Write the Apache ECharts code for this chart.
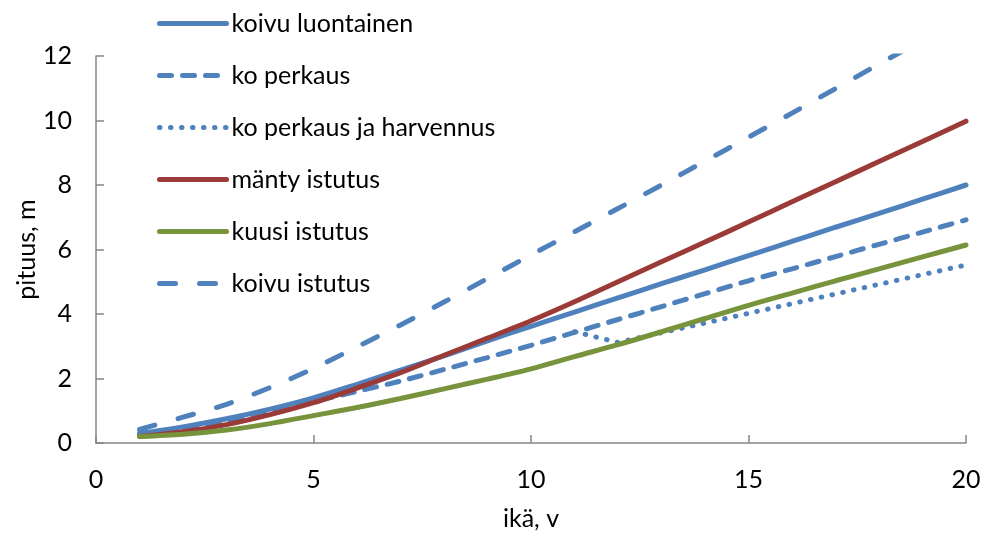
<!DOCTYPE html>
<html>
<head>
<meta charset="utf-8">
<script src="https://cdn.jsdelivr.net/npm/echarts@6/dist/echarts.min.js"></script>
<style>
  html, body { margin: 0; padding: 0; background: #fff; }
  #chart { width: 985px; height: 536px; }
</style>
</head>
<body>
<div id="chart"></div>
<script>
// ikä, v
const ages = [1, 2, 3, 4, 5, 6, 7, 8, 9, 10, 11, 12, 13, 14, 15, 16, 17, 18, 19, 20];
const agesHarvennus = [11, 12, 13, 14, 15, 16, 17, 18, 19, 20];

// pituus, m
const koivuLuontainen = [0.3, 0.5, 0.75, 1.05, 1.4, 1.82, 2.26, 2.7, 3.17, 3.62, 4.06, 4.5, 4.94, 5.37, 5.81, 6.25, 6.69, 7.12, 7.56, 8.0];
const koPerkaus = [0.25, 0.42, 0.65, 0.95, 1.28, 1.6, 1.92, 2.28, 2.65, 3.03, 3.43, 3.83, 4.23, 4.63, 5.03, 5.4, 5.78, 6.16, 6.54, 6.92];
const koPerkausHarvennus = [3.45, 3.12, 3.42, 3.72, 4.02, 4.32, 4.62, 4.92, 5.22, 5.52];
const mantyIstutus = [0.2, 0.35, 0.57, 0.88, 1.25, 1.7, 2.18, 2.72, 3.25, 3.79, 4.38, 5.0, 5.62, 6.23, 6.85, 7.48, 8.1, 8.73, 9.35, 9.98];
const kuusiIstutus = [0.2, 0.27, 0.4, 0.6, 0.85, 1.1, 1.38, 1.68, 1.98, 2.3, 2.68, 3.05, 3.45, 3.86, 4.27, 4.65, 5.03, 5.4, 5.77, 6.14];
const koivuIstutus = [0.42, 0.8, 1.2, 1.72, 2.31, 2.98, 3.66, 4.37, 5.1, 5.83, 6.55, 7.27, 8.0, 8.74, 9.48, 10.23, 10.99, 11.75, 12.5, 13.25];

const xTicks = [0, 5, 10, 15, 20];
const yTicks = [0, 2, 4, 6, 8, 10, 12];

const BLUE = "#4F81BD";
const RED = "#9B3B38";
const GREEN = "#77933C";
const FONT = "Lato";
const FS = 25;

function pairs(xs, ys) {
  return xs.map((x, i) => [x, ys[i]]);
}

function line(name, xs, ys, color, type, smooth) {
  return {
    name: name,
    type: "line",
    data: pairs(xs, ys),
    symbol: "none",
    smooth: smooth,
    clip: true,
    lineStyle: { color: color, width: 5, type: type, cap: "round" },
    itemStyle: { color: color }
  };
}

const chart = echarts.init(document.getElementById("chart"));

chart.setOption({
  backgroundColor: "#fff",
  animation: false,
  textStyle: { fontFamily: FONT },
  grid: { left: 96, right: 19, top: 56, bottom: 91 },
  legend: {
    orient: "vertical",
    left: 152,
    top: 6,
    itemWidth: 67,
    itemHeight: 14,
    itemGap: 27,
    itemStyle: { opacity: 0 },
    lineStyle: { width: 5, cap: "round" },
    textStyle: { fontFamily: FONT, fontSize: FS, color: "#000" },
    data: ["koivu luontainen", "ko perkaus", "ko perkaus ja harvennus", "mänty istutus", "kuusi istutus", "koivu istutus"]
  },
  xAxis: {
    type: "value",
    min: xTicks[0],
    max: xTicks[xTicks.length - 1],
    interval: 5,
    name: "ikä, v",
    nameLocation: "middle",
    nameGap: 63,
    nameTextStyle: { fontFamily: FONT, fontSize: FS, color: "#000" },
    axisLine: { lineStyle: { color: "#868686", width: 1.5 } },
    axisTick: { inside: true, length: 8, lineStyle: { color: "#868686", width: 1.5 } },
    axisLabel: { fontFamily: FONT, fontSize: FS, color: "#000", margin: 24 },
    splitLine: { show: false }
  },
  yAxis: {
    type: "value",
    min: yTicks[0],
    max: yTicks[yTicks.length - 1],
    interval: 2,
    name: "pituus, m",
    nameLocation: "middle",
    nameGap: 57,
    nameMoveOverlap: false,
    nameTextStyle: { fontFamily: FONT, fontSize: FS, color: "#000" },
    axisLine: { show: true, lineStyle: { color: "#868686", width: 1.5 } },
    axisTick: { show: true, inside: true, length: 8, lineStyle: { color: "#868686", width: 1.5 } },
    axisLabel: { fontFamily: FONT, fontSize: FS, color: "#000", margin: 24 },
    splitLine: { show: false }
  },
  series: [
    line("koivu luontainen", ages, koivuLuontainen, BLUE, "solid", 0.3),
    line("ko perkaus", ages, koPerkaus, BLUE, [12, 11], 0.3),
    line("ko perkaus ja harvennus", agesHarvennus, koPerkausHarvennus, BLUE, [0.5, 10.5], false),
    line("mänty istutus", ages, mantyIstutus, RED, "solid", 0.3),
    line("kuusi istutus", ages, kuusiIstutus, GREEN, "solid", 0.3),
    line("koivu istutus", ages, koivuIstutus, BLUE, [16, 24], 0.3)
  ]
});
</script>
</body>
</html>
